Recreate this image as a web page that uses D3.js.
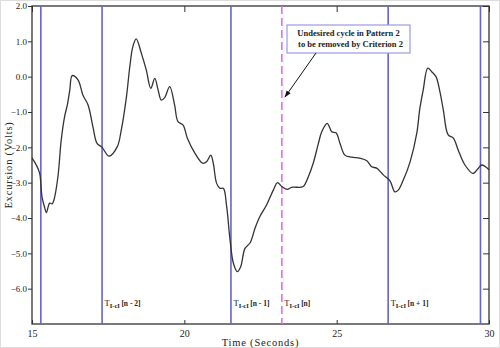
<!DOCTYPE html>
<html>
<head>
<meta charset="utf-8">
<script src="https://cdn.jsdelivr.net/npm/d3@7"></script>
<style>
  body { margin: 0; background: #fff; }
  text { font-family: "Liberation Serif", "DejaVu Serif", serif; fill: #222; }
</style>
</head>
<body>
<div id="chart-area"></div>
<script>
// excursion trace (seconds, volts)
var timeValues = [15.00, 15.14, 15.25, 15.33, 15.42, 15.47, 15.58, 15.66, 15.72, 15.85, 15.96, 16.07, 16.16, 16.24, 16.32,
    16.51, 16.67, 16.84, 17.00, 17.13, 17.30, 17.53, 17.80, 17.93, 18.10, 18.21, 18.31, 18.42, 18.59, 18.75,
    18.90, 19.03, 19.14, 19.24, 19.35, 19.52, 19.68, 19.79, 19.96, 20.10, 20.35, 20.60, 20.73, 20.87, 20.95,
    21.06, 21.17, 21.28, 21.39, 21.50, 21.61, 21.74, 21.85, 21.99, 22.16, 22.32, 22.48, 22.70, 22.92, 23.06,
    23.20, 23.38, 23.52, 23.69, 23.90, 24.07, 24.23, 24.40, 24.51, 24.69, 24.84, 24.98, 25.11, 25.27, 25.49,
    25.77, 25.99, 26.15, 26.31, 26.53, 26.75, 26.91, 27.02, 27.19, 27.41, 27.63, 27.73, 27.84, 27.99, 28.12,
    28.26, 28.39, 28.50, 28.66, 28.83, 28.99, 29.21, 29.48, 29.65, 29.76, 29.92, 30.00];
var voltValues = [-2.30, -2.50, -2.73, -3.41, -3.72, -3.85, -3.58, -3.60, -3.49, -2.84, -1.79, -1.13, -0.80, -0.38, 0.03,
    -0.09, -0.52, -0.80, -1.42, -1.88, -2.00, -2.25, -1.98, -1.51, -0.57, 0.28, 0.85, 1.07, 0.66, 0.19,
    -0.33, -0.05, -0.38, -0.66, -0.60, -0.28, -0.80, -1.27, -1.37, -1.74, -2.17, -2.45, -2.41, -2.22, -2.45,
    -3.02, -3.16, -3.16, -3.68, -4.62, -5.28, -5.52, -5.38, -4.86, -4.70, -4.29, -3.96, -3.63, -3.21, -3.00,
    -3.11, -3.19, -3.13, -3.13, -3.11, -2.83, -2.45, -1.89, -1.56, -1.32, -1.56, -1.59, -1.89, -2.22, -2.28,
    -2.31, -2.38, -2.55, -2.59, -2.78, -2.95, -3.26, -3.21, -2.92, -2.41, -1.60, -0.90, -0.38, 0.24, 0.14,
    0.00, -0.43, -0.94, -1.65, -1.74, -2.08, -2.50, -2.74, -2.59, -2.50, -2.57, -2.64];

// cycle boundaries
var markerTimes = [15.29, 17.30, 21.53, 26.69, 29.72];
var markerLabels = [null, "[n - 2]", "[n - 1]", "[n + 1]", null];
var undesiredTime = 23.20;
var undesiredLabel = "[n]";

var xTicks = [15, 20, 25, 30];
var yTicks = [2, 1, 0, -1, -2, -3, -4, -5, -6];
var noteLines = ["Undesired cycle in Pattern 2", "to be removed by Criterion 2"];

var margin = {top: 6, right: 11, bottom: 24, left: 32};
var W = 500, H = 348;
var width = W - margin.left - margin.right,
    height = H - margin.top - margin.bottom;

var svg = d3.select("#chart-area")
    .append("svg")
    .attr("width", W)
    .attr("height", H);

// faint border round the picture
svg.append("rect")
    .attr("x", 0.5).attr("y", 0.5)
    .attr("width", W - 1).attr("height", H - 1)
    .attr("fill", "#fff")
    .attr("stroke", "#ddd");

var g = svg.append("g")
    .attr("transform", "translate(" + margin.left + "," + margin.top + ")");

var x = d3.scaleLinear().domain([15, 30]).range([0, width]);
var y = d3.scaleLinear().domain([-7, 2]).range([height, 0]);

// left axis, ticks outward
var yAxis = g.append("g")
    .call(d3.axisLeft(y).tickValues(yTicks).tickSize(4).tickPadding(1).tickFormat(d3.format(".1f")));
yAxis.selectAll("text").style("font-size", "9px").style("fill", "#222");

// bottom axis, ticks inward
var xAxis = g.append("g")
    .attr("transform", "translate(0," + height + ")")
    .call(d3.axisBottom(x).tickValues(xTicks).tickSize(-4).tickPadding(6).tickFormat(d3.format("d")));
xAxis.selectAll("text").style("font-size", "10px").style("fill", "#222");

// top and right ticks, inward
g.append("g")
    .call(d3.axisTop(x).tickValues(xTicks).tickSize(-6).tickFormat(""));
g.append("g")
    .attr("transform", "translate(" + width + ",0)")
    .call(d3.axisRight(y).tickValues(yTicks).tickSize(-6).tickFormat(""));

g.selectAll(".domain").remove();
g.selectAll(".tick line").attr("stroke", "#333");

// frame
g.append("rect")
    .attr("width", width)
    .attr("height", height)
    .attr("fill", "none")
    .attr("stroke", "#333")
    .attr("stroke-width", 1.3);

// cycle boundary lines
g.selectAll(".marker")
    .data(markerTimes)
    .enter().append("line")
    .attr("class", "marker")
    .attr("x1", function(d) { return x(d); })
    .attr("x2", function(d) { return x(d); })
    .attr("y1", 0)
    .attr("y2", height)
    .attr("stroke", "#6464cc")
    .attr("stroke-width", 1.6);

g.append("line")
    .attr("x1", x(undesiredTime)).attr("x2", x(undesiredTime))
    .attr("y1", 0).attr("y2", height)
    .attr("stroke", "#ee66ee")
    .attr("stroke-width", 1.6)
    .attr("stroke-dasharray", "8,4");

// the trace
var line = d3.line()
    .x(function(d, i) { return x(timeValues[i]); })
    .y(function(d) { return y(d); })
    .curve(d3.curveCatmullRom.alpha(0.5));

g.append("path")
    .datum(voltValues)
    .attr("d", line)
    .attr("fill", "none")
    .attr("stroke", "#333")
    .attr("stroke-width", 1.3);

// T labels
function addLabel(t, txt) {
    var lab = g.append("text")
        .attr("x", x(t) + 2.5)
        .attr("y", 300);
    lab.append("tspan").text("T").style("font-size", "8.5px");
    lab.append("tspan").text("I-cI").attr("dy", 2).style("font-size", "6.5px").style("font-weight", "bold");
    lab.append("tspan").text(txt).attr("dy", -2).attr("dx", 1.5).style("font-size", "7.5px").style("font-weight", "bold");
}
markerTimes.forEach(function(t, i) {
    if (markerLabels[i]) addLabel(t, markerLabels[i]);
});
addLabel(undesiredTime, undesiredLabel);

// annotation box
var note = g.append("g").attr("transform", "translate(255,19)");
note.append("rect")
    .attr("width", 123)
    .attr("height", 28)
    .attr("fill", "#fff")
    .attr("stroke", "#9a9ae0")
    .attr("stroke-width", 1.2);
note.selectAll("text")
    .data(noteLines)
    .enter().append("text")
    .attr("x", function(d, i) { return 61.5 + i * 2; })
    .attr("y", function(d, i) { return 11 + i * 11; })
    .attr("text-anchor", "middle")
    .style("font-size", "8.5px")
    .style("font-weight", "bold")
    .text(function(d) { return d; });

svg.append("defs").append("marker")
    .attr("id", "arrow")
    .attr("viewBox", "0 0 10 10")
    .attr("refX", 9).attr("refY", 5)
    .attr("markerWidth", 7).attr("markerHeight", 7)
    .attr("orient", "auto")
    .append("path")
    .attr("d", "M0,1.5 L10,5 L0,8.5 Z")
    .attr("fill", "#111");

g.append("line")
    .attr("x1", 284).attr("y1", 47)
    .attr("x2", 253).attr("y2", 91)
    .attr("stroke", "#111")
    .attr("stroke-width", 1)
    .attr("marker-end", "url(#arrow)");

// axis titles
svg.append("text")
    .attr("x", margin.left + width / 2)
    .attr("y", 346)
    .attr("text-anchor", "middle")
    .style("font-size", "10.5px")
    .style("letter-spacing", "0.8px")
    .text("Time (Seconds)");

svg.append("text")
    .attr("transform", "translate(12," + (margin.top + height / 2) + ") rotate(-90)")
    .attr("text-anchor", "middle")
    .style("font-size", "10.5px")
    .style("letter-spacing", "0.8px")
    .text("Excursion (Volts)");
</script>
</body>
</html>
